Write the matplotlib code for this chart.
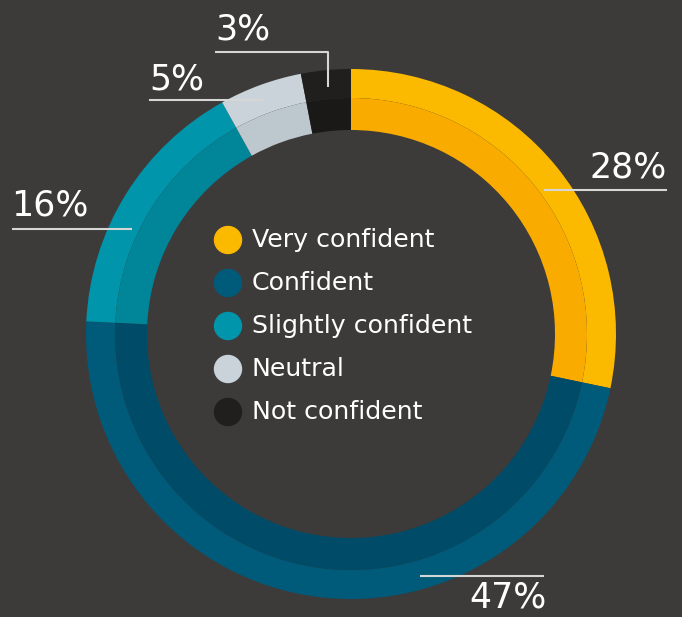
import matplotlib.pyplot as plt
from matplotlib.patches import Circle

# data
labels = ['Very confident', 'Confident', 'Slightly confident', 'Neutral', 'Not confident']
values = [28, 47, 16, 5, 3]
outer_colors = ['#fbb900', '#005b7a', '#0095aa', '#c9d3d9', '#201f1d']
inner_colors = ['#f9ab00', '#004b68', '#008599', '#bcc7ce', '#1a1918']
pct_text = ['28%', '47%', '16%', '5%', '3%']

W, H = 682, 617
bg = '#3c3b3a'
cx, cy = 351, H - 334

fig = plt.figure(figsize=(W / 100, H / 100), dpi=100, facecolor=bg)
ax = fig.add_axes([0, 0, 1, 1])
ax.set_facecolor(bg)

# outer band (lighter) and inner band (darker)
ax.pie(values, radius=265, center=(cx, cy), colors=outer_colors, startangle=90,
       counterclock=False, wedgeprops=dict(width=29, linewidth=0), frame=True)
ax.pie(values, radius=236, center=(cx, cy), colors=inner_colors, startangle=90,
       counterclock=False, wedgeprops=dict(width=32, linewidth=0), frame=True)

# legend in the middle
leg_y = [240, 283, 326, 369, 412]
for lab, col, y in zip(labels, outer_colors, leg_y):
    ax.add_patch(Circle((228, H - y), 13.5, color=col, zorder=3))
    ax.text(252, H - y, lab, color='white', fontsize=18.2, va='center', ha='left',
            family='DejaVu Sans')

# percentage labels with leader lines
line_kw = dict(color='#d6d6d6', lw=1.5, solid_capstyle='butt')
txt_kw = dict(color='white', fontsize=25, ha='left', va='baseline', family='DejaVu Sans')

ax.plot([544, 667], [H - 190, H - 190], **line_kw)
ax.text(589, H - 178, pct_text[0], **txt_kw)

ax.plot([420, 544], [H - 576, H - 576], **line_kw)
ax.text(469, H - 607, pct_text[1], **txt_kw)

ax.plot([12, 132], [H - 229, H - 229], **line_kw)
ax.text(11, H - 215, pct_text[2], **txt_kw)

ax.plot([149, 263], [H - 100, H - 100], **line_kw)
ax.text(149, H - 89, pct_text[3], **txt_kw)

ax.plot([215, 328, 328], [H - 52, H - 52, H - 87], **line_kw)
ax.text(215, H - 40, pct_text[4], **txt_kw)

ax.set_xlim(0, W)
ax.set_ylim(0, H)
ax.set_aspect('auto')
ax.axis('off')

fig.savefig('out.png', dpi=100, facecolor=bg)
